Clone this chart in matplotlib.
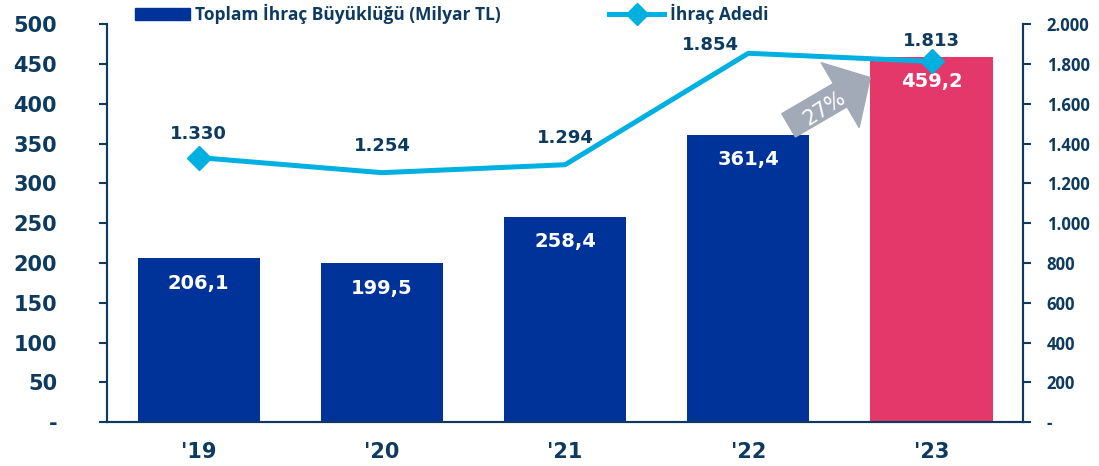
import matplotlib.pyplot as plt
from matplotlib.lines import Line2D
from matplotlib.patches import Patch
from matplotlib.ticker import FuncFormatter

# veriler
years = ["'19", "'20", "'21", "'22", "'23"]
buyukluk = [206.1, 199.5, 258.4, 361.4, 459.2]   # Milyar TL
adet = [1330, 1254, 1294, 1854, 1813]
artis_etiketi = "27%"

NAVY = "#0d3a5f"
BLUE = "#003399"
PINK = "#e4386b"
CYAN = "#00b0e0"
GREY = "#a2aab8"


def tr_sayi(v, ondalik=0):
    if v == 0:
        return "-"
    s = f"{v:,.{ondalik}f}"
    return s.replace(",", "X").replace(".", ",").replace("X", ".")


fig = plt.figure(figsize=(10.99, 4.66), dpi=100)
ax = fig.add_axes([0.0974, 0.094, 0.8336, 0.854])
ax2 = ax.twinx()

x = list(range(len(years)))
colors = [BLUE] * (len(years) - 1) + [PINK]
bars = ax.bar(x, buyukluk, width=0.667, color=colors, zorder=2)
for xi, v in zip(x, buyukluk):
    ax.annotate(tr_sayi(v, 1), (xi, v), xytext=(0, -18), textcoords="offset points",
                ha="center", va="center", color="white", fontsize=14,
                fontweight="bold", zorder=5)

line, = ax2.plot(x, adet, color=CYAN, lw=3.6, marker="D", markersize=12,
                 markevery=[0, len(x) - 1], zorder=4)
# etiket kaydırmaları (nokta cinsinden)
ofs = [(0, 17), (0, 19), (0, 19.5), (-27, 6), (0, 15)]
for xi, v, (dx, dy) in zip(x, adet, ofs):
    ax2.annotate(tr_sayi(v), (xi, v), xytext=(dx, dy), textcoords="offset points",
                 ha="center", va="center", color=NAVY, fontsize=13,
                 fontweight="bold")

# artış oku ('22 -> '23)
ax.annotate("", xy=(3.665, 433), xytext=(3.22, 373),
            arrowprops=dict(arrowstyle="simple,head_length=1.25,head_width=2.7,tail_width=0.97",
                            color=GREY, mutation_scale=20, shrinkA=0, shrinkB=0), zorder=3)
ax.text(3.419, 394.5, artis_etiketi, rotation=33, color="white", fontsize=15,
        ha="center", va="center", zorder=6)

ax.set_xlim(-0.5, len(years) - 0.5)
ax.set_ylim(0, 500)
ax2.set_ylim(0, 2000)
ax.set_yticks(range(0, 501, 50))
ax2.set_yticks(range(0, 2001, 200))
ax.yaxis.set_major_formatter(FuncFormatter(lambda v, p: tr_sayi(v)))
ax2.yaxis.set_major_formatter(FuncFormatter(lambda v, p: tr_sayi(v)))
ax.set_xticks(x)
ax.set_xticklabels(years)

for a in (ax, ax2):
    a.spines["top"].set_visible(False)
    for s in ("left", "right", "bottom"):
        a.spines[s].set_color(NAVY)
        a.spines[s].set_linewidth(1.5)
ax.tick_params(axis="y", colors=NAVY, labelsize=15, length=6, width=1.5, pad=30)
ax2.tick_params(axis="y", colors=NAVY, labelsize=12, length=6, width=1.5, pad=11)
ax.tick_params(axis="x", colors=NAVY, labelsize=15, length=0, pad=14)
for lbl in ax.get_yticklabels() + ax.get_xticklabels():
    lbl.set_fontweight("bold")
for lbl in ax2.get_yticklabels():
    lbl.set_fontweight("bold")
    lbl.set_fontfamily("Open Sans")

handles = [Patch(color=BLUE),
           Line2D([0], [0], color=CYAN, lw=3.6, marker="D", markersize=11)]
leg = fig.legend(handles, ["Toplam İhraç Büyüklüğü (Milyar TL)", "İhraç Adedi"],
                 loc="upper left", bbox_to_anchor=(0.1083, 1.026), ncol=2, frameon=False,
                 handlelength=3.2, handleheight=0.7, handletextpad=0.3,
                 columnspacing=6.2,
                 prop={"family": "Open Sans", "weight": "bold", "size": 12.5})
for t in leg.get_texts():
    t.set_color(NAVY)

fig.savefig("out.png", dpi=100)
